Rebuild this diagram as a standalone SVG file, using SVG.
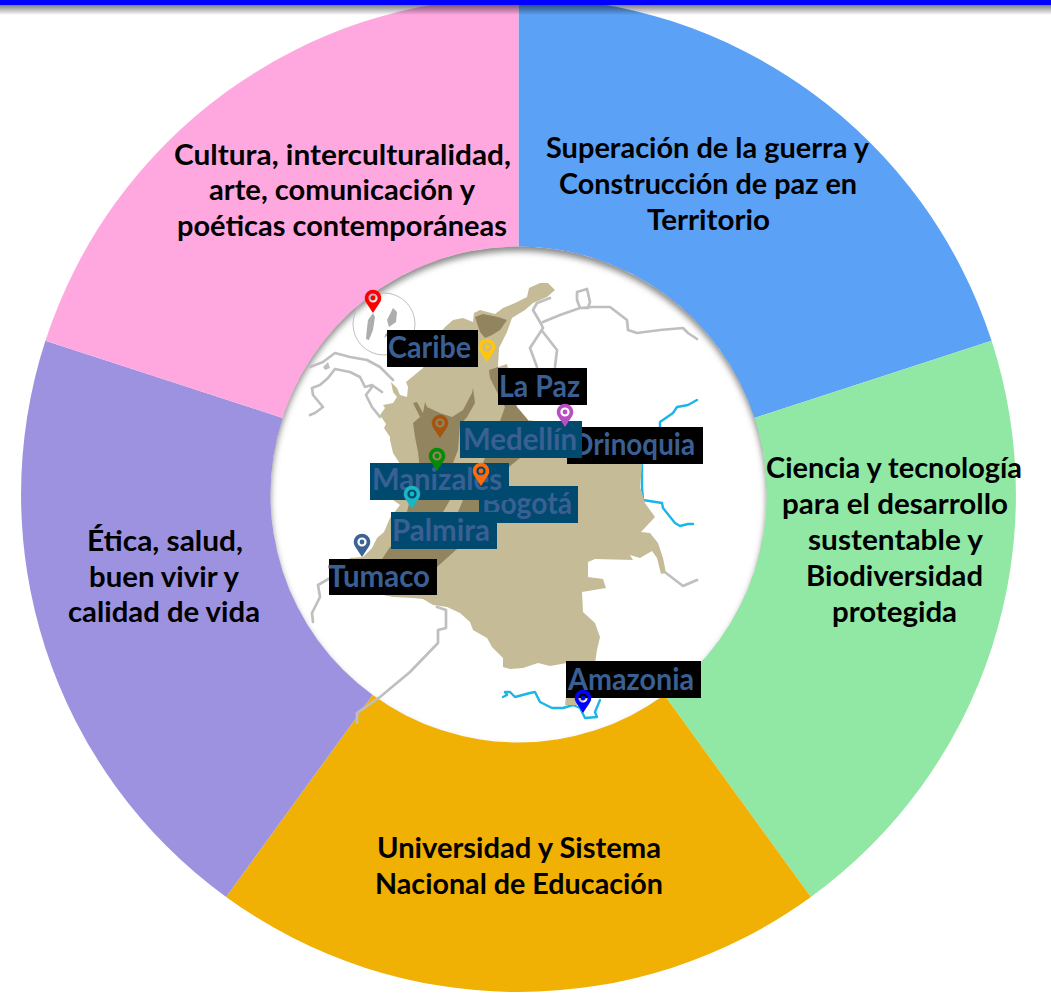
<svg xmlns="http://www.w3.org/2000/svg" width="1051" height="1002" viewBox="0 0 1051 1002">
<style>
.seg text{font-family:"Lato","Liberation Sans",sans-serif;font-weight:700;font-size:29px;fill:#000}
.lab text{font-family:"Lato","Liberation Sans",sans-serif;font-weight:700;font-size:30px;fill:#3A5F93}
.k{fill:#000}.t{fill:#004A70}
.gray{fill:none;stroke:#BFBFBF;stroke-width:2.7;stroke-linejoin:round;stroke-linecap:round}
.river{fill:none;stroke:#1CB5E8;stroke-width:2.4;stroke-linejoin:round;stroke-linecap:round}
.land{fill:#C5BC97}.dark{fill:#91845F}
</style>
<defs>
<path id="pin" fill-rule="evenodd" d="M0,0L-6.9,-10.4A8.3,8.3 0 1 1 6.9,-10.4ZM0,-19.6A4.6,4.6 0 1 0 0,-10.4A4.6,4.6 0 1 0 0,-19.6ZM0,-17.4A2.4,2.4 0 1 1 0,-12.6A2.4,2.4 0 1 1 0,-17.4Z"/>
<linearGradient id="barShadow" x1="0" y1="0" x2="0" y2="1"><stop offset="0" stop-color="#000" stop-opacity=".5"/><stop offset="1" stop-color="#000" stop-opacity="0"/></linearGradient>
<clipPath id="holeClip"><circle cx="518.5" cy="494.5" r="248"/></clipPath>
<filter id="soft" x="-10%" y="-10%" width="120%" height="120%"><feGaussianBlur stdDeviation="3"/></filter>
</defs>
<rect width="1051" height="1002" fill="#fff"/>

<g id="segment-paz" class="seg">
<path fill="#5BA1F5" d="M518.5,-3A497.5,497.5 0 0 1 991.6,340.8L754.4,417.9A248,248 0 0 0 518.5,246.5Z"/>
<text x="546" y="158" textLength="323" lengthAdjust="spacingAndGlyphs">Superación de la guerra y</text>
<text x="559" y="194" textLength="298" lengthAdjust="spacingAndGlyphs">Construcción de paz en</text>
<text x="647" y="230" textLength="123" lengthAdjust="spacingAndGlyphs">Territorio</text>
</g>
<g id="segment-ciencia" class="seg">
<path fill="#91E8A4" d="M991.6,340.8A497.5,497.5 0 0 1 810.9,897L664.3,695.1A248,248 0 0 0 754.4,417.9Z"/>
<text x="766" y="478" textLength="256" lengthAdjust="spacingAndGlyphs">Ciencia y tecnología</text>
<text x="782" y="514" textLength="226" lengthAdjust="spacingAndGlyphs">para el desarrollo</text>
<text x="808" y="550" textLength="175" lengthAdjust="spacingAndGlyphs">sustentable y</text>
<text x="806" y="586" textLength="177" lengthAdjust="spacingAndGlyphs">Biodiversidad</text>
<text x="832" y="622" textLength="125" lengthAdjust="spacingAndGlyphs">protegida</text>
</g>
<g id="segment-universidad" class="seg">
<path fill="#F0B004" d="M810.9,897A497.5,497.5 0 0 1 226.1,897L372.7,695.1A248,248 0 0 0 664.3,695.1Z"/>
<text x="377" y="858" textLength="284" lengthAdjust="spacingAndGlyphs">Universidad y Sistema</text>
<text x="375" y="894" textLength="288" lengthAdjust="spacingAndGlyphs">Nacional de Educación</text>
</g>
<g id="segment-etica" class="seg">
<path fill="#9D92E0" d="M226.1,897A497.5,497.5 0 0 1 45.4,340.8L282.6,417.9A248,248 0 0 0 372.7,695.1Z"/>
<text x="87" y="551" textLength="156" lengthAdjust="spacingAndGlyphs">Ética, salud,</text>
<text x="89" y="587" textLength="150" lengthAdjust="spacingAndGlyphs">buen vivir y</text>
<text x="68" y="622" textLength="192" lengthAdjust="spacingAndGlyphs">calidad de vida</text>
</g>
<g id="segment-cultura" class="seg">
<path fill="#FFA8E0" d="M45.4,340.8A497.5,497.5 0 0 1 518.5,-3L518.5,246.5A248,248 0 0 0 282.6,417.9Z"/>
<text x="174" y="165" textLength="337" lengthAdjust="spacingAndGlyphs">Cultura, interculturalidad,</text>
<text x="209" y="200" textLength="266" lengthAdjust="spacingAndGlyphs">arte, comunicación y</text>
<text x="177" y="236" textLength="330" lengthAdjust="spacingAndGlyphs">poéticas contemporáneas</text>
</g>

<g id="hole-shadow" clip-path="url(#holeClip)">
<path fill="#888" fill-rule="evenodd" filter="url(#soft)" d="M518.5,199A300,300 0 1 0 518.5,799A300,300 0 1 0 518.5,199ZM518.5,251A248,248 0 1 1 518.5,747A248,248 0 1 1 518.5,251Z"/>
</g>

<g id="map">
<circle cx="384" cy="324" r="31" fill="none" stroke="#BFBFBF" stroke-width="1"/>
<path fill="#ADADAD" d="M373,313L375,317L373,330L369,340L366,339L367,328L368,320ZM393,308L397,312L396,322L389,327L387,320L391,312ZM386,333L388,335L384,338Z"/>
<path class="gray" d="M310,367L323,362L335,353L350,357L367,360L380,367L390,377L393,380M310,415L315,413L323,407L313,395L312,388L320,385L328,378L335,369L350,372L360,377L365,387L372,385L382,392M372,387L366,395L372,407L380,417"/>
<path fill="#BFBFBF" d="M323,367L328,362L330,368L325,370Z"/>
<path class="gray" d="M550,298L537,303L533,310L540,322L543,328M543,322L560,315L580,308L592,307L610,307L627,320L628,330L637,333L660,330L683,328L688,333L697,339M580,308L577,300L577,292L587,289L590,302L588,308L580,308M543,328L530,348L537,367M543,332L557,350L555,367"/>
<path class="gray" d="M330,578L318,585L320,597L312,613L313,622M437,607L446,610L446,628L438,630L438,643L410,672L380,697L357,713L357,723M666,573L683,586L697,580"/>
<path class="river" d="M697,400L688,405L677,407L673,413L660,422L660,427M642,465L642,487L643,500L662,503L663,508L675,523L680,526L688,524L693,524"/>
<path class="river" d="M503,697L507,695L505,692L510,692L515,697L530,693L535,692L540,702L552,708L563,708L573,705L580,708L585,718L597,717L595,712L600,700"/>
<path class="land" d="M555,290L548,283L540,283L529,288L527,297L515,303L503,308L495,314L480,310L474,313L473,322L463,318L453,320L445,327L430,345L423,368L406,382L408,387L407,397L400,395L397,388L391,382L393,392L397,397L393,403L383,405L385,408L380,415L386,424L384,428L390,437L390,440L393,453L402,467L393,500L400,505L390,518L384,532L377,538L372,548L363,557L350,558L345,570L360,590L393,597L413,598L423,599L433,605L447,607L460,613L470,622L473,630L487,638L492,647L503,658L503,667L510,669L523,668L538,663L550,666L567,663L566,697L565,705L577,705L590,697L597,650L600,637L595,623L583,612L582,592L606,588L603,579L588,577L588,562L595,559L633,560L630,555L640,558L652,551L657,558L661,574L666,573L663,558L658,543L650,533L641,532L655,517L645,503L642,493L640,487L642,465L642,450L620,440L580,440L560,425L528,420L517,407L507,364L498,367L499,348L507,332L512,318L525,310L533,303L547,297Z"/>
<path class="dark" d="M475,317L483,314L498,317L507,320L500,330L492,335L485,338L480,332Z"/>
<path class="dark" d="M489,370L498,367L517,407L528,420L520,458L509,467L490,490L479,512L457,549L437,567L430,575L378,560L382,559L390,547L420,530L458,512L463,500L480,470L500,421L505,407L497,392L490,378Z"/>
<path class="dark" d="M473,388L475,403L467,417L460,425L458,450L453,463L450,500L443,512L407,512L412,490L420,470L418,452L415,437L413,423L420,417L413,403L417,402L423,413L425,402L427,407L440,413L452,417L463,410L472,393Z"/>
</g>

<g id="label-orinoquia" class="lab"><rect class="k" x="567" y="427" width="136" height="37"/><text x="571" y="455" textLength="124" lengthAdjust="spacingAndGlyphs">Orinoquia</text></g>
<g id="label-la-paz" class="lab"><rect class="k" x="498" y="368" width="89" height="37"/><text x="499" y="397" textLength="81" lengthAdjust="spacingAndGlyphs">La Paz</text></g>
<g id="label-caribe" class="lab"><rect class="k" x="387" y="330" width="91" height="37"/><text x="388" y="358" textLength="83" lengthAdjust="spacingAndGlyphs">Caribe</text></g>
<g id="label-medellin" class="lab"><rect class="t" x="460" y="421" width="122" height="37"/><text x="463" y="450" textLength="114" lengthAdjust="spacingAndGlyphs">Medellín</text></g>
<g id="label-bogota" class="lab"><rect class="t" x="479" y="486" width="99" height="37"/><text x="482" y="514" textLength="90" lengthAdjust="spacingAndGlyphs">Bogotá</text></g>
<g id="label-manizales" class="lab"><rect class="t" x="370" y="463" width="139" height="37"/><text x="372" y="490" textLength="130" lengthAdjust="spacingAndGlyphs">Manizales</text></g>
<g id="label-palmira" class="lab"><rect class="t" x="391" y="512" width="106" height="37"/><text x="392" y="541" textLength="98" lengthAdjust="spacingAndGlyphs">Palmira</text></g>
<g id="label-tumaco" class="lab"><rect class="k" x="329" y="559" width="108" height="36"/><text x="328" y="587" textLength="102" lengthAdjust="spacingAndGlyphs">Tumaco</text></g>
<g id="label-amazonia" class="lab"><rect class="k" x="566" y="661" width="135" height="37"/><text x="568" y="690" textLength="126" lengthAdjust="spacingAndGlyphs">Amazonia</text></g>

<g id="pin-san-andres"><use href="#pin" x="373" y="313" fill="#FF0000"/></g>
<g id="pin-caribe"><use href="#pin" x="487" y="362" fill="#FFC60B"/></g>
<g id="pin-la-paz"><use href="#pin" x="565" y="427" fill="#B94EC0"/></g>
<g id="pin-medellin"><use href="#pin" x="440" y="438" fill="#A5540F"/></g>
<g id="pin-manizales"><use href="#pin" x="437" y="471" fill="#048A06"/></g>
<g id="pin-bogota"><use href="#pin" x="481" y="486" fill="#FF6A0A"/></g>
<g id="pin-palmira"><use href="#pin" x="412" y="509" fill="#1AB6C4"/></g>
<g id="pin-tumaco"><use href="#pin" x="362" y="557" fill="#3B6394"/></g>
<g id="pin-amazonia"><use href="#pin" x="583" y="713" fill="#0000FF"/></g>

<g id="top-bar">
<rect x="0" y="5" width="1051" height="10" fill="url(#barShadow)"/>
<rect x="0" y="0" width="1051" height="5" fill="#0000FF"/>
</g>
</svg>
